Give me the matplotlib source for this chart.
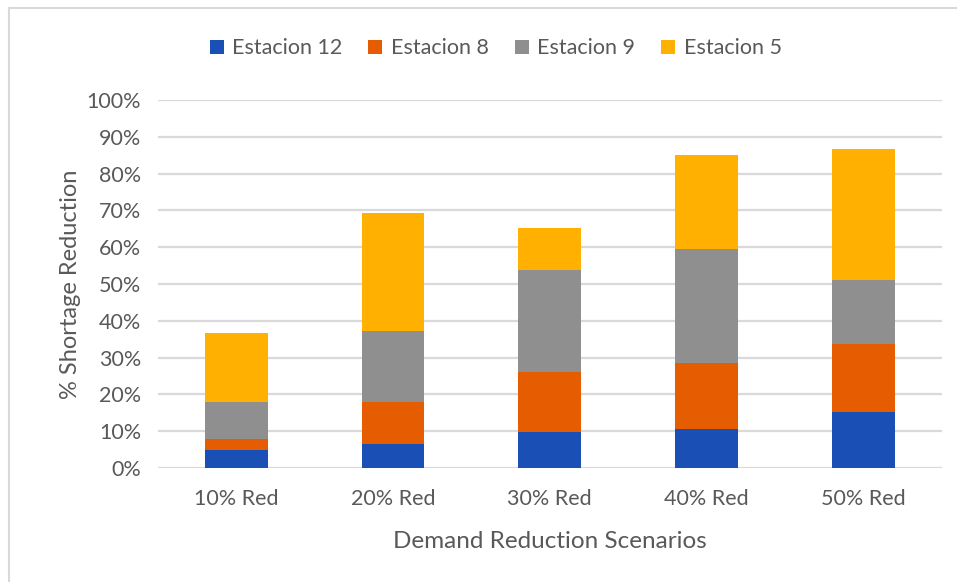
import numpy as np
import matplotlib
matplotlib.use('Agg')
from matplotlib import pyplot as plt
from matplotlib.lines import Line2D
from matplotlib.ticker import PercentFormatter

# datos del grafico
escenarios = ['10% Red', '20% Red', '30% Red', '40% Red', '50% Red']
estacion12 = [0.048, 0.065, 0.097, 0.107, 0.152]
estacion8 = [0.031, 0.115, 0.163, 0.178, 0.186]
estacion9 = [0.101, 0.191, 0.279, 0.310, 0.173]
estacion5 = [0.188, 0.321, 0.112, 0.257, 0.355]

series = [('Estacion 12', estacion12, '#1a4fb5'),
          ('Estacion 8', estacion8, '#e65c00'),
          ('Estacion 9', estacion9, '#8f8f8f'),
          ('Estacion 5', estacion5, '#ffb000')]

plt.rcParams['font.family'] = ['Lato', 'DejaVu Sans']
texto = '#595959'

fig = plt.figure(figsize=(9.57, 5.82), dpi=100)
ax = fig.add_axes([0.165, 0.196, 0.819, 0.632])

x = np.arange(len(escenarios))
base = np.zeros(len(escenarios))
for nombre, vals, color in series:
    ax.bar(x, vals, 0.4, bottom=base, color=color, label=nombre, zorder=3)
    base += np.array(vals)

ax.set_ylim(0, 1.0)
ax.set_xlim(-0.5, len(escenarios) - 0.5)
ax.set_yticks(np.arange(0, 1.01, 0.1))
ax.yaxis.set_major_formatter(PercentFormatter(1.0, decimals=0))
ax.set_xticks(x)
ax.set_xticklabels(escenarios)
ax.grid(axis='y', color='#d9d9d9', linewidth=1.6, zorder=0)
for s in ax.spines.values():
    s.set_visible(False)
ax.tick_params(length=0, labelsize=15.5, colors=texto)
ax.tick_params(axis='y', pad=12)
ax.tick_params(axis='x', pad=15)

ax.set_xlabel('Demand Reduction Scenarios', fontsize=17.5, color=texto, labelpad=16)
ax.set_ylabel('% Shortage Reduction', fontsize=17, color=texto, labelpad=4)

fig.legend(*ax.get_legend_handles_labels(), loc='center', bbox_to_anchor=(0.518, 0.917),
           ncol=4, frameon=False, fontsize=15.5, labelcolor=texto,
           handlelength=0.65, handleheight=0.65, handletextpad=0.4, columnspacing=1.2)

# borde superior e izquierdo
fig.add_artist(Line2D([0.0095, 1.0], [0.986, 0.986], color='#d9d9d9', linewidth=1.5))
fig.add_artist(Line2D([0.0095, 0.0095], [0.0, 0.986], color='#d9d9d9', linewidth=1.5))

plt.savefig('out.png', dpi=100)
